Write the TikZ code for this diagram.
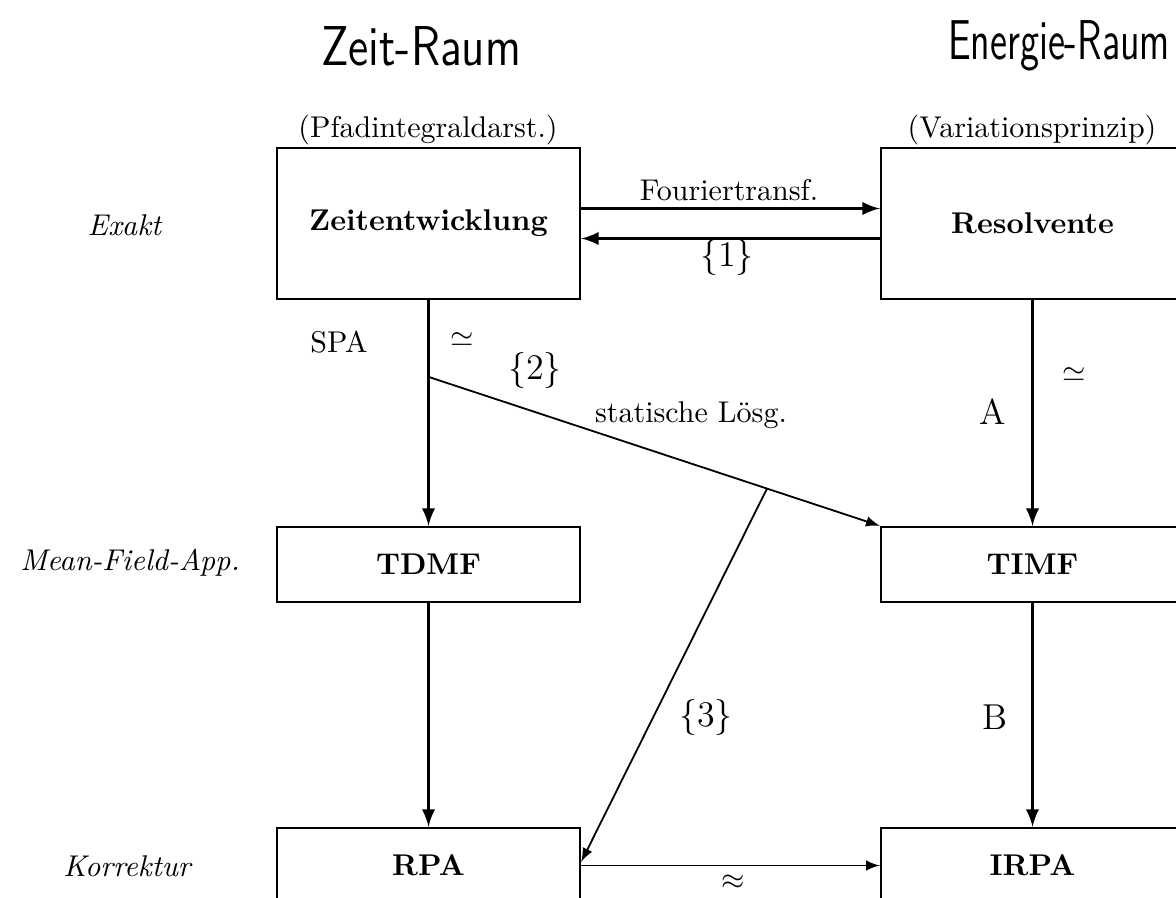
\documentclass[tikz,border=0pt]{standalone}
\usepackage{amsmath}
\usepackage{amssymb}
\usepackage{tikz}

\begin{document}
\begin{tikzpicture}[
        x=0.3333pt, y=-0.3333pt,
        box/.style={rectangle, draw, line width=0.8pt, minimum width=101pt, inner sep=0pt, text centered},
        bigbox/.style={box, minimum height=50.3pt},
        smallbox/.style={box, minimum height=25pt},
        head/.style={font=\Large\sffamily},
        arrow/.style={-latex, line width=1pt},
        thinarrow/.style={-latex, line width=0.6pt}
    ]
    \useasboundingbox (0,0) rectangle (1176,898);

    % Headings
    \node[head] (zeitraum) at (421, 46) {\scalebox{1.07}[1.3]{Zeit-Raum}};
    \node[head] (energieraum) at (1059, 46) {\scalebox{0.9}[1.3]{Energie-Raum}};
    \node (pfad) at (428, 130) {(Pfadintegraldarst.)};
    \node (variation) at (1032, 130) {(Variationsprinzip)};

    % Row labels
    \node (exakt) at (125, 225) {\textit{Exakt}};
    \node (meanfield) at (130, 563) {\textit{Mean-Field-App.}};
    \node (korrektur) at (128, 866) {\textit{Korrektur}};

    % Boxes
    \node[bigbox] (zeit) at (428.5, 223.5) {\textbf{Zeitentwicklung}};
    \node[bigbox] (resol) at (1032.5, 223.5) {\textbf{Resolvente}};
    \node[smallbox] (tdmf) at (428.5, 564.5) {\textbf{TDMF}};
    \node[smallbox] (timf) at (1032.5, 564.5) {\textbf{TIMF}};
    \node[smallbox] (rpa) at (428.5, 865.5) {\textbf{RPA}};
    \node[smallbox] (irpa) at (1032.5, 865.5) {\textbf{IRPA}};

    % Arrows
    \draw[arrow] ([yshift=5pt]zeit.east) -- ([yshift=5pt]resol.west);
    \draw[arrow] ([yshift=-5pt]resol.west) -- ([yshift=-5pt]zeit.east);
    \draw[arrow] (zeit.south) -- coordinate[pos=0.34] (split) (tdmf.north);
    \draw[arrow] (resol.south) -- (timf.north);
    \draw[arrow] (tdmf.south) -- (rpa.north);
    \draw[arrow] (timf.south) -- (irpa.north);
    \draw[thinarrow] (split) -- coordinate[pos=0.75] (branch) (timf.north west);
    \draw[thinarrow] (branch) -- ([yshift=1.2pt]rpa.east);
    \draw[thinarrow] (rpa.east) -- (irpa.west);

    % Arrow labels
    \node (fourier) at (729, 190) {Fouriertransf.};
    \node (eins) at (727, 258) {\large $\{1\}$};
    \node (spa) at (339, 342) {SPA};
    \node (simlinks) at (462, 340) {$\simeq$};
    \node (zwei) at (535, 370) {\large $\{2\}$};
    \node (statisch) at (691, 415) {statische Lösg.};
    \node (simrechts) at (1074, 375) {$\simeq$};
    \node (labela) at (993, 412) {\large A};
    \node (labelb) at (995, 717) {\large B};
    \node (drei) at (706, 717) {\large $\{3\}$};
    \node (approx) at (733, 882) {$\approx$};

\end{tikzpicture}
\end{document}
